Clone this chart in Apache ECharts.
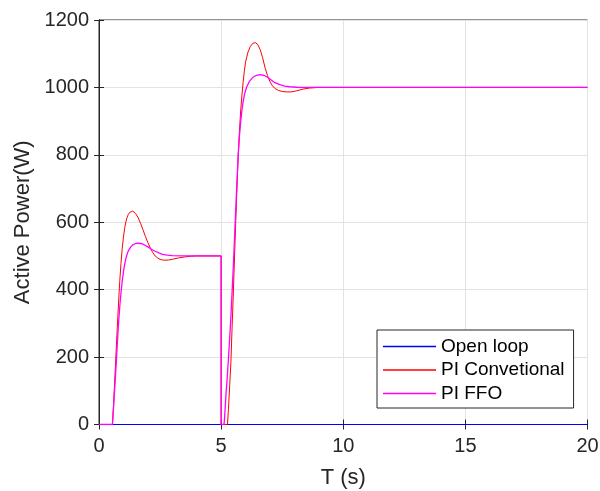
<!DOCTYPE html>
<html>
<head>
<meta charset="utf-8">
<script src="https://cdn.jsdelivr.net/npm/echarts@6/dist/echarts.min.js"></script>
<style>html,body{margin:0;padding:0;background:#fff}#c{width:600px;height:491px}</style>
</head>
<body>
<div id="c"></div>
<script>
// ---- data ----
const xTicks = [0, 5, 10, 15, 20];
const yTicks = [0, 200, 400, 600, 800, 1000, 1200];

const tOpen = [0, 20];
const pOpen = [0, 0];

const tConv = [0, 0.55, 0.6, 0.65, 0.7, 0.75, 0.8, 0.85, 0.9, 0.95, 1.0, 1.05, 1.1, 1.15, 1.2, 1.25, 1.3, 1.38, 1.45, 1.5, 1.6, 1.7, 1.8, 1.9, 2.0, 2.1, 2.2, 2.3, 2.4, 2.5, 2.6, 2.7, 2.85, 3.0, 3.25, 3.5, 3.75, 4.0, 5.0,
               5.0, 5.26, 5.3, 5.35, 5.4, 5.45, 5.5, 5.55, 5.6, 5.65, 5.7, 5.75, 5.8, 5.85, 5.9, 5.95, 6.0, 6.1, 6.2, 6.3, 6.4, 6.5, 6.6, 6.7, 6.8, 6.9, 7.0, 7.1, 7.2, 7.35, 7.5, 7.7, 7.9, 8.1, 8.35, 8.6, 9.0, 20];
const pConv = [0, 0, 65, 140, 215, 290, 360, 425, 478, 522, 556, 582, 601, 614, 623, 629, 632, 633, 630, 626, 614, 597, 578, 558, 540, 524, 510, 500, 494, 490, 488, 487.5, 488, 490, 494, 497, 499, 500, 500,
               0, 0, 45, 115, 185, 290, 390, 500, 605, 705, 800, 870, 930, 975, 1015, 1048, 1075, 1105, 1122, 1131, 1133, 1127, 1112, 1088, 1058, 1035, 1017, 1005, 997, 991, 988, 986.5, 987, 990, 995, 998, 1000, 1000];

const tFFO = [0, 0.55, 0.6, 0.65, 0.7, 0.75, 0.8, 0.85, 0.9, 0.95, 1.0, 1.05, 1.1, 1.15, 1.2, 1.3, 1.4, 1.5, 1.6, 1.7, 1.8, 1.9, 2.0, 2.15, 2.3, 2.45, 2.6, 2.8, 3.0, 3.5, 5.0,
              5.0, 5.12, 5.15, 5.2, 5.25, 5.3, 5.35, 5.4, 5.45, 5.5, 5.55, 5.6, 5.65, 5.7, 5.75, 5.8, 5.85, 5.9, 5.95, 6.0, 6.05, 6.15, 6.3, 6.45, 6.6, 6.75, 6.9, 7.05, 7.2, 7.4, 7.6, 7.8, 8.1, 8.5, 20];
const pFFO = [0, 0, 55, 115, 175, 240, 300, 350, 390, 425, 453, 475, 492, 505, 515, 527, 534, 537, 538, 537, 535, 531, 527, 520, 514, 509, 505, 502.5, 501, 500, 500,
              0, 0, 30, 90, 140, 195, 255, 320, 395, 470, 555, 640, 725, 800, 855, 898, 932, 957, 977, 991, 1002, 1017, 1030, 1036, 1038, 1036, 1030, 1022, 1014, 1008, 1004, 1002, 1000.5, 1000, 1000];

const seriesNames = ['Open loop', 'PI Convetional', 'PI FFO'];
const seriesColors = ['#0000ff', '#ff0000', '#ff00ff'];

const zip = (a, b) => a.map((v, i) => [v, b[i]]);

const txt = '#262626';
const chart = echarts.init(document.getElementById('c'), null, {renderer: 'canvas'});
const font = 'Arial, "Liberation Sans", Helvetica, sans-serif';

const axisCommon = {
  axisLine: {show: true, lineStyle: {color: txt, width: 1}},
  axisTick: {show: true, inside: true, length: 5, lineStyle: {color: txt}},
};

chart.setOption({
  animation: false,
  backgroundColor: '#fff',
  textStyle: {fontFamily: font},
  grid: {left: 99, right: 12.5, top: 20, bottom: 66.5, show: true, borderColor: txt, borderWidth: 1,
         containLabel: false, outerBoundsMode: 'none'},
  legend: {
    orient: 'vertical', left: 377, top: 330,
    data: seriesNames,
    icon: 'rect', itemWidth: 53, itemHeight: 1.5, itemGap: 4.5,
    padding: [7, 9, 5, 6],
    borderColor: txt, borderWidth: 1, backgroundColor: '#fff',
    textStyle: {fontSize: 19, color: '#000', fontFamily: font, padding: [0, 0, 0, 0]},
    selectedMode: false
  },
  xAxis: [{
    type: 'value', min: 0, max: 20, interval: 5, position: 'bottom',
    name: 'T (s)', nameLocation: 'middle', nameGap: 42,
    nameTextStyle: {fontSize: 22, color: txt, fontFamily: font},
    axisLabel: {fontSize: 20, color: txt, margin: 12, fontFamily: font, formatter: v => xTicks.includes(v) ? String(v) : ''},
    splitLine: {show: true, lineStyle: {color: '#e3e3e3', width: 1}},
    ...axisCommon
  }, {
    type: 'value', min: 0, max: 20, interval: 5, position: 'top',
    axisLabel: {show: false}, splitLine: {show: false},
    ...axisCommon
  }],
  yAxis: [{
    type: 'value', min: 0, max: 1200, interval: 200, position: 'left',
    name: 'Active Power(W)', nameLocation: 'middle', nameGap: 60, nameRotate: 90,
    nameTextStyle: {fontSize: 22, color: txt, fontFamily: font},
    axisLabel: {fontSize: 20, color: txt, margin: 10, fontFamily: font, formatter: v => yTicks.includes(v) ? String(v) : ''},
    splitLine: {show: true, lineStyle: {color: '#e3e3e3', width: 1}},
    ...axisCommon
  }, {
    type: 'value', min: 0, max: 1200, interval: 200, position: 'right',
    axisLabel: {show: false}, splitLine: {show: false},
    ...axisCommon
  }],
  series: [
    {name: seriesNames[0], type: 'line', data: zip(tOpen, pOpen), showSymbol: false, symbol: 'none',
     lineStyle: {color: seriesColors[0], width: 1}, itemStyle: {color: seriesColors[0]}},
    {name: seriesNames[1], type: 'line', data: zip(tConv, pConv), showSymbol: false, symbol: 'none',
     lineStyle: {color: seriesColors[1], width: 1}, itemStyle: {color: seriesColors[1]}},
    {name: seriesNames[2], type: 'line', data: zip(tFFO, pFFO), showSymbol: false, symbol: 'none',
     lineStyle: {color: seriesColors[2], width: 1.3}, itemStyle: {color: seriesColors[2]}}
  ]
});
</script>
</body>
</html>
